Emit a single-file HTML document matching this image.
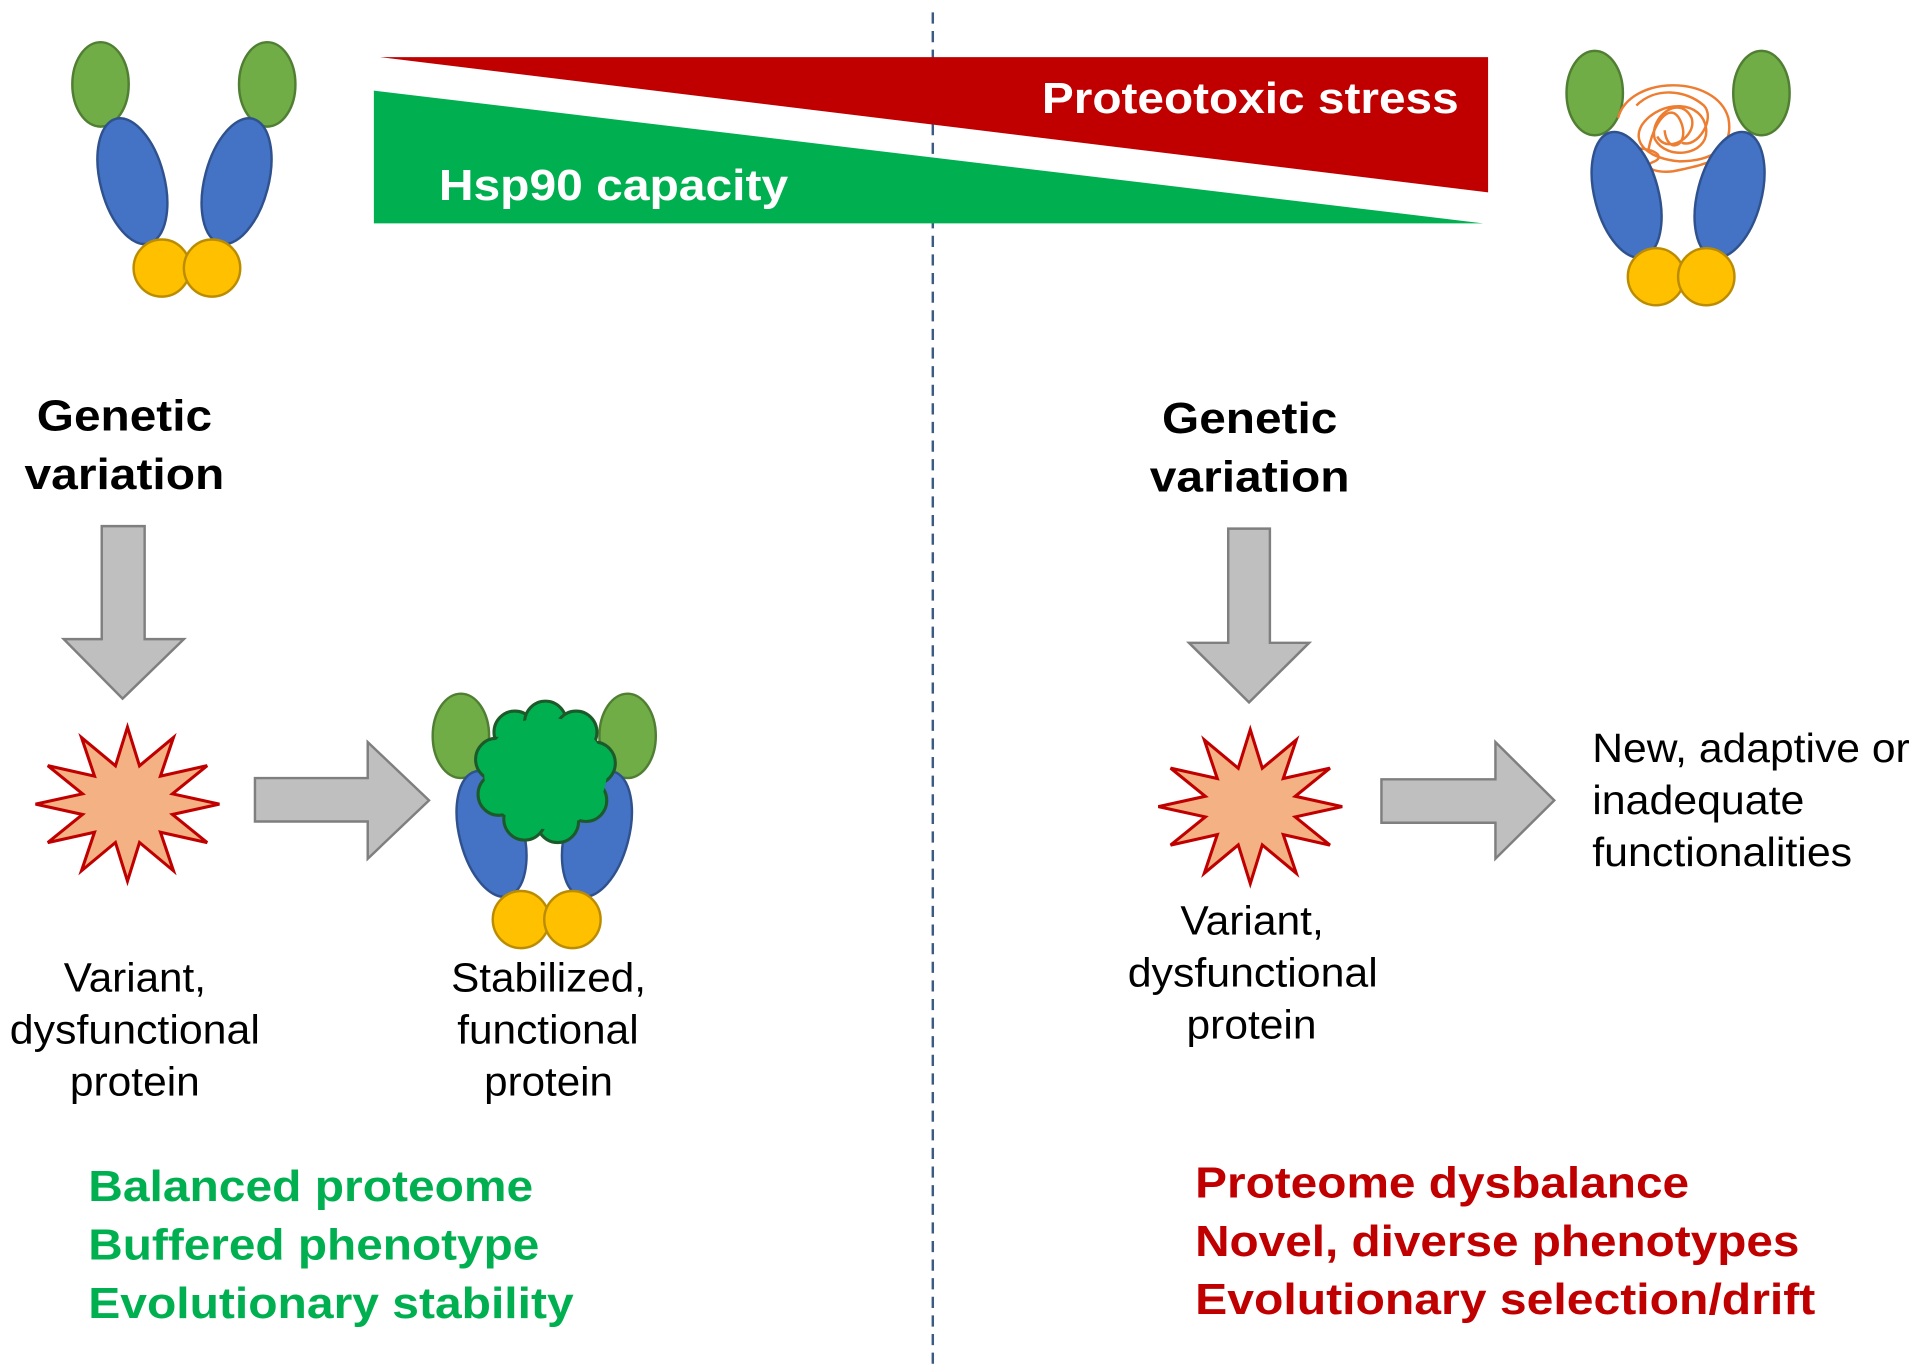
<!DOCTYPE html>
<html><head><meta charset="utf-8"><style>html,body{margin:0;padding:0;background:#fff}svg{display:block}text{font-family:"Liberation Sans",Arial,sans-serif}</style></head><body>
<svg width="1922" height="1370" viewBox="0 0 1568 1104" preserveAspectRatio="none" xmlns="http://www.w3.org/2000/svg">
<defs>
<g id="star"><polygon points="75,0 36.7,8.3 65,31 26.9,22.6 37.5,53.7 9.8,30.9 0,62 -9.8,30.9 -37.5,53.7 -26.9,22.6 -65,31 -36.7,8.3 -75,0 -36.7,-8.3 -65,-31 -26.9,-22.6 -37.5,-53.7 -9.8,-30.9 0,-62 9.8,-30.9 37.5,-53.7 26.9,-22.6 65,-31 36.7,-8.3" fill="#f4b183" stroke="#c00000" stroke-width="2.5" stroke-linejoin="miter"/></g>
</defs>
<line x1="761" y1="10" x2="761" y2="1104" stroke="#3b5b82" stroke-width="2" stroke-dasharray="9,6"/>
<polygon points="310,46 1214,46 1214,155" fill="#c00000"/>
<polygon points="305,73 305,180 1210,180" fill="#00b050"/>
<text x="850" y="91" font-size="35" font-weight="bold" fill="#fff" textLength="340" lengthAdjust="spacingAndGlyphs">Proteotoxic stress</text>
<text x="358" y="161" font-size="35" font-weight="bold" fill="#fff" textLength="285" lengthAdjust="spacingAndGlyphs">Hsp90 capacity</text>

<g stroke-width="2">
<ellipse cx="82" cy="68" rx="23" ry="34" fill="#70ad47" stroke="#507e32"/>
<ellipse cx="218" cy="68" rx="23" ry="34" fill="#70ad47" stroke="#507e32"/>
<ellipse cx="108" cy="146" rx="26" ry="52" transform="rotate(-15 108 146)" fill="#4472c4" stroke="#2f528f"/>
<ellipse cx="193" cy="146" rx="26" ry="52" transform="rotate(15 193 146)" fill="#4472c4" stroke="#2f528f"/>
<circle cx="132" cy="216" r="23" fill="#ffc000" stroke="#bc8c00"/>
<circle cx="173" cy="216" r="23" fill="#ffc000" stroke="#bc8c00"/>
</g>

<g stroke-width="2">
<ellipse cx="1301" cy="75" rx="23" ry="34" fill="#70ad47" stroke="#507e32"/>
<ellipse cx="1437" cy="75" rx="23" ry="34" fill="#70ad47" stroke="#507e32"/>
<g fill="none" stroke="#ed7d31" stroke-width="2">
<path d="M1320,95 C1330,60 1400,60 1410,95 C1415,120 1395,130 1370,130 C1345,128 1330,115 1340,100 C1355,80 1390,80 1392,105 C1393,125 1360,130 1350,112 C1345,95 1370,75 1380,95 C1385,110 1360,125 1352,110"/>
<path d="M1330,120 C1345,118 1360,125 1350,130 C1338,134 1350,140 1365,138 C1380,135 1395,132 1405,125"/>
<path d="M1335,85 C1350,70 1375,72 1390,85 C1400,95 1385,120 1372,115"/>
<path d="M1345,120 C1350,95 1365,80 1372,100 C1378,118 1360,125 1358,105"/>
</g>
<ellipse cx="1327" cy="157" rx="26" ry="52" transform="rotate(-15 1327 157)" fill="#4472c4" stroke="#2f528f"/>
<ellipse cx="1411" cy="157" rx="26" ry="52" transform="rotate(15 1411 157)" fill="#4472c4" stroke="#2f528f"/>
<circle cx="1351" cy="223" r="23" fill="#ffc000" stroke="#bc8c00"/>
<circle cx="1392" cy="223" r="23" fill="#ffc000" stroke="#bc8c00"/>
</g>

<g font-size="35" font-weight="bold">
<text x="30" y="347" textLength="143" lengthAdjust="spacingAndGlyphs">Genetic</text>
<text x="20" y="394" textLength="163" lengthAdjust="spacingAndGlyphs">variation</text>
<text x="948" y="349" textLength="143" lengthAdjust="spacingAndGlyphs">Genetic</text>
<text x="938" y="396" textLength="163" lengthAdjust="spacingAndGlyphs">variation</text>
</g>

<g fill="#bfbfbf" stroke="#7f7f7f" stroke-width="2">
<polygon points="83,424 118,424 118,515 150,515 100,563 52,515 83,515"/>
<polygon points="1002,426 1036,426 1036,518 1068,518 1019,566 970,518 1002,518"/>
<polygon points="208,627 300,627 300,598 350,645 300,692 300,662 208,662"/>
<polygon points="1127,628 1220,628 1220,598 1268,645 1220,692 1220,663 1127,663"/>
</g>

<use href="#star" transform="translate(104,648)"/>
<use href="#star" transform="translate(1020,650)"/>

<g stroke-width="2">
<ellipse cx="376" cy="593" rx="23" ry="34" fill="#70ad47" stroke="#507e32"/>
<ellipse cx="512" cy="593" rx="23" ry="34" fill="#70ad47" stroke="#507e32"/>
<ellipse cx="401" cy="672" rx="26" ry="52" transform="rotate(-15 401 672)" fill="#4472c4" stroke="#2f528f"/>
<ellipse cx="487" cy="672" rx="26" ry="52" transform="rotate(15 487 672)" fill="#4472c4" stroke="#2f528f"/>
<g fill="#00b050" stroke="#1d5a2a" stroke-width="2.5">
<circle cx="420" cy="590" r="17"/><circle cx="445" cy="582" r="17"/><circle cx="470" cy="590" r="17"/>
<circle cx="485" cy="615" r="17"/><circle cx="478" cy="645" r="17"/><circle cx="455" cy="662" r="17"/>
<circle cx="428" cy="660" r="17"/><circle cx="407" cy="640" r="17"/><circle cx="405" cy="612" r="17"/>
</g>
<ellipse cx="445" cy="623" rx="50" ry="45" fill="#00b050"/>
<circle cx="425" cy="741" r="23" fill="#ffc000" stroke="#bc8c00"/>
<circle cx="467" cy="741" r="23" fill="#ffc000" stroke="#bc8c00"/>
</g>

<g font-size="33" fill="#000">
<text x="52" y="799" textLength="116" lengthAdjust="spacingAndGlyphs">Variant,</text>
<text x="8" y="841" textLength="204" lengthAdjust="spacingAndGlyphs">dysfunctional</text>
<text x="57" y="883" textLength="106" lengthAdjust="spacingAndGlyphs">protein</text>
<text x="368" y="799" textLength="159" lengthAdjust="spacingAndGlyphs">Stabilized,</text>
<text x="373" y="841" textLength="148" lengthAdjust="spacingAndGlyphs">functional</text>
<text x="395" y="883" textLength="105" lengthAdjust="spacingAndGlyphs">protein</text>
<text x="963" y="753" textLength="117" lengthAdjust="spacingAndGlyphs">Variant,</text>
<text x="920" y="795" textLength="204" lengthAdjust="spacingAndGlyphs">dysfunctional</text>
<text x="968" y="837" textLength="106" lengthAdjust="spacingAndGlyphs">protein</text>
<text x="1299" y="614" textLength="259" lengthAdjust="spacingAndGlyphs">New, adaptive or</text>
<text x="1299" y="656" textLength="173" lengthAdjust="spacingAndGlyphs">inadequate</text>
<text x="1299" y="698" textLength="212" lengthAdjust="spacingAndGlyphs">functionalities</text>
</g>
<g font-size="35" font-weight="bold" fill="#00b050">
<text x="72" y="968" textLength="363" lengthAdjust="spacingAndGlyphs">Balanced proteome</text>
<text x="72" y="1015" textLength="368" lengthAdjust="spacingAndGlyphs">Buffered phenotype</text>
<text x="72" y="1062" textLength="396" lengthAdjust="spacingAndGlyphs">Evolutionary stability</text>
</g>
<g font-size="35" font-weight="bold" fill="#c00000">
<text x="975" y="965" textLength="403" lengthAdjust="spacingAndGlyphs">Proteome dysbalance</text>
<text x="975" y="1012" textLength="493" lengthAdjust="spacingAndGlyphs">Novel, diverse phenotypes</text>
<text x="975" y="1059" textLength="506" lengthAdjust="spacingAndGlyphs">Evolutionary selection/drift</text>
</g>
</svg>
</body></html>
